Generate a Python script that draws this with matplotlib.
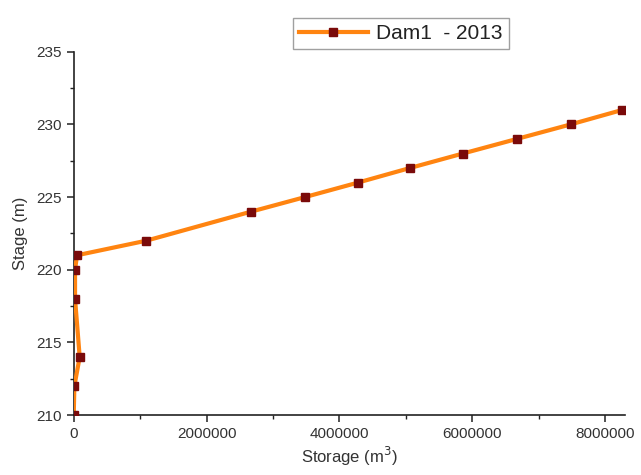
import matplotlib
matplotlib.use("Agg")
import matplotlib.pyplot as plt
from matplotlib.ticker import MultipleLocator

plt.rcParams['font.family'] = ['Liberation Sans', 'DejaVu Sans']

# storage (m3) vs stage (m)
storage = [0, 10000, 90000, 20000, 20000, 50000, 1090000, 2670000, 3480000,
           4280000, 5060000, 5860000, 6670000, 7480000, 8260000]
stage = [210, 212, 214, 218, 220, 221, 222, 224, 225, 226, 227, 228, 229, 230, 231]

fig = plt.figure(figsize=(6.41, 4.75), dpi=100)
ax = fig.add_axes([0.115, 0.126, 0.86, 0.765])

ax.plot(storage, stage, color='#ff8410', lw=3, marker='s', ms=5.5,
        mfc='#7a0a0a', mec='#7a0a0a', label='Dam1  - 2013', zorder=3)

ax.set_xlim(0, 8.3e6)
ax.set_ylim(210, 235)
ax.xaxis.set_major_locator(MultipleLocator(2e6))
ax.xaxis.set_minor_locator(MultipleLocator(1e6))
ax.yaxis.set_major_locator(MultipleLocator(5))
ax.yaxis.set_minor_locator(MultipleLocator(2.5))
ax.ticklabel_format(style='plain', axis='x')

for s in ['top', 'right']:
    ax.spines[s].set_visible(False)
for s in ['left', 'bottom']:
    ax.spines[s].set_linewidth(1.2)
    ax.spines[s].set_color('#222222')

ax.tick_params(which='major', direction='out', length=5, width=1.1,
               labelsize=11, labelcolor='#333333', color='#222222')
ax.tick_params(which='minor', direction='out', length=3, width=1.0, color='#222222')

ax.set_xlabel('Storage (m$^3$)', fontsize=12, color='#333333', labelpad=3)
ax.set_ylabel('Stage (m)', fontsize=12, color='#333333', labelpad=6)

leg = fig.legend(loc='upper center', bbox_to_anchor=(0.625, 0.985), fontsize=15,
                 frameon=True, fancybox=False, edgecolor='#888888',
                 handlelength=3.3, borderpad=0.3, handletextpad=0.4)
leg.get_frame().set_linewidth(1.0)
for t in leg.get_texts():
    t.set_color('#222222')

fig.savefig('out.png', dpi=100)
